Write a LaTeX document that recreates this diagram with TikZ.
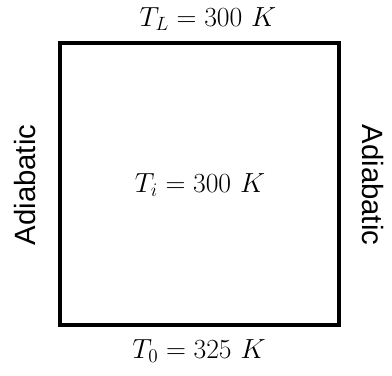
\documentclass[tikz,border=0pt]{standalone}
\usepackage{fontspec}
\newfontfamily\labelfont{Liberation Sans}
\usetikzlibrary{positioning}

\begin{document}
\begin{tikzpicture}[
  x=0.75pt, y=-0.75pt,
  wall/.style={draw, line width=2.3pt},
  templabel/.style={font=\fontsize{22}{26}\selectfont, inner sep=0pt},
  sidelabel/.style={font=\labelfont\fontsize{22}{26}\selectfont, inner sep=0pt}
]
\useasboundingbox (0,0) rectangle (392,375);
\draw[wall] (60,43) rectangle (339,325);
\node[templabel] (tl) at (208,19) {$T_L = 300\ K$};
\node[templabel] (t0) at (199,351) {$T_0 = 325\ K$};
\node[templabel] (ti) at (200,185) {$T_i = 300\ K$};
\node[sidelabel, rotate=90] (adl) at (25,185) {Adiabatic};
\node[sidelabel, rotate=-90] (adr) at (373,185) {Adiabatic};
\end{tikzpicture}
\end{document}
